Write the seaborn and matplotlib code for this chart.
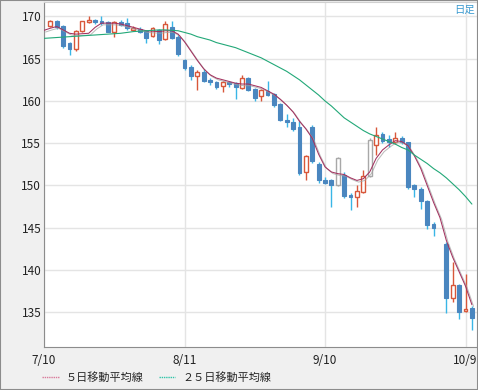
import numpy as np
import pandas as pd
import matplotlib
matplotlib.use("Agg")
import matplotlib.pyplot as plt
import matplotlib.patheffects as pe
from matplotlib.lines import Line2D
import seaborn as sns

# candle index 1..67 (index 0 = 7/10 on the left edge)
day = list(range(1, 68))
open_ = [168.9, 169.4, 168.9, 166.8, 166.2, 168.3, 169.3, 169.6, 169.4, 169.3,
         168.2, 169.3, 169.2, 168.4, 168.5, 168.3, 167.7, 168.4, 167.3, 168.8,
         167.6, 164.8, 164.0, 162.9, 163.4, 162.5, 162.2, 161.8, 162.2, 162.1,
         161.5, 162.7, 161.4, 160.6, 161.2, 160.8, 159.6, 157.8, 157.5, 156.9,
         151.6, 156.9, 152.6, 150.7, 150.6, 150.1, 151.3, 148.9, 148.6, 149.2,
         151.1, 154.8, 156.1, 155.5, 155.1, 155.6, 155.1, 150.0, 149.6, 148.2,
         145.4, np.nan, 143.1, 136.7, 138.2, 135.2, 135.5]
high = [169.6, 169.6, 169.0, 167.0, 168.4, 169.5, 170.0, 169.7, 170.0, 169.4,
        169.5, 169.6, 169.8, 168.9, 168.8, 168.4, 168.8, 168.5, 169.4, 169.4,
        167.8, 165.0, 164.2, 163.6, 163.8, 162.7, 162.4, 162.3, 162.4, 162.2,
        163.1, 162.8, 161.5, 161.4, 162.3, 160.9, 159.7, 158.5, 158.0, 157.6,
        153.6, 157.1, 152.8, 151.0, 150.8, 153.4, 151.6, 149.1, 150.0, 151.8,
        155.6, 156.9, 156.3, 156.0, 156.3, 155.8, 155.2, 150.2, 149.8, 148.3,
        145.7, np.nan, 143.3, 140.9, 138.3, 139.5, 135.7]
low = [168.7, 168.5, 166.3, 165.4, 165.9, 168.2, 169.2, 169.1, 169.0, 168.1,
       167.6, 168.9, 168.4, 168.3, 168.0, 166.9, 167.6, 166.7, 167.2, 167.3,
       165.3, 163.7, 162.5, 161.3, 162.2, 161.9, 161.4, 161.0, 161.6, 160.2,
       161.4, 161.2, 160.0, 160.0, 160.6, 159.3, 157.6, 156.9, 156.5, 151.3,
       150.6, 152.7, 150.3, 150.2, 147.4, 149.9, 148.5, 147.1, 147.4, 149.1,
       151.0, 153.6, 155.0, 154.5, 154.9, 154.9, 149.6, 148.6, 147.2, 144.8,
       144.0, np.nan, 134.9, 136.2, 134.2, 135.0, 132.9]
close = [169.4, 168.8, 166.5, 166.1, 168.3, 169.4, 169.6, 169.3, 169.2, 168.2,
         169.3, 169.0, 168.6, 168.6, 168.2, 167.4, 168.6, 167.2, 169.1, 167.5,
         165.5, 163.9, 162.9, 163.4, 162.4, 162.2, 161.6, 162.2, 162.0, 161.6,
         162.7, 161.3, 160.4, 161.3, 160.7, 159.5, 157.7, 157.5, 156.7, 151.5,
         153.5, 152.9, 150.6, 150.3, 150.0, 153.3, 148.8, 148.6, 149.4, 151.1,
         155.4, 156.0, 155.3, 155.2, 155.6, 155.1, 149.8, 149.6, 148.2, 145.3,
         145.0, np.nan, 136.7, 138.2, 135.0, 135.4, 134.3]

# moving averages, index 0..67
ma_day = list(range(0, 68))
ma5 = [168.35, 168.6, 168.8, 168.4, 168.0, 167.9, 167.95, 168.0, 168.7, 169.2,
       169.2, 169.2, 169.1, 168.9, 168.7, 168.5, 168.3, 168.25, 168.2, 168.3,
       168.3, 167.9, 167.0, 165.9, 164.8, 163.8, 163.1, 162.7, 162.5, 162.3,
       162.1, 162.0, 162.0, 161.8, 161.6, 161.2, 160.8, 160.2, 159.5, 158.7,
       157.6, 156.7, 155.6, 153.7, 152.2, 151.6, 151.4, 151.3, 150.9, 150.6,
       150.8, 151.6, 153.2, 154.2, 154.8, 155.3, 155.2, 154.7, 153.5, 152.0,
       150.0, 148.0, 146.2, 143.5, 141.5, 139.8, 138.1, 135.9]
ma25 = [167.4, 167.45, 167.5, 167.55, 167.6, 167.65, 167.7, 167.75, 167.8, 167.85,
        167.9, 167.95, 168.0, 168.1, 168.2, 168.25, 168.3, 168.35, 168.4, 168.4,
        168.35, 168.3, 168.1, 167.9, 167.6, 167.4, 167.2, 166.9, 166.7, 166.5,
        166.3, 166.0, 165.7, 165.4, 165.1, 164.7, 164.3, 163.9, 163.5, 163.0,
        162.5, 161.9, 161.3, 160.7, 160.0, 159.4, 158.7, 158.0, 157.5, 157.0,
        156.5, 156.1, 155.8, 155.5, 155.2, 154.9, 154.5, 154.2, 153.6, 153.1,
        152.6, 152.0, 151.5, 150.9, 150.2, 149.5, 148.7, 147.8]

tick_pos = [0, 22, 44, 66]
tick_labels = ["7/10", "8/11", "9/10", "10/9"]
y_ticks = [135, 140, 145, 150, 155, 160, 165, 170]
gray_days = [46, 51]

sns.set_style("whitegrid", {"grid.color": "#e4e4e4", "axes.edgecolor": "#9a9a9a"})
plt.rcParams["font.family"] = ["Noto Sans CJK JP", "DejaVu Sans"]

RED = "#d8573a"
BLUE = "#4a86bf"
WICK = "#39b6e6"
PINK = "#a3325f"
GREEN = "#22a878"

fig = plt.figure(figsize=(4.78, 3.90), dpi=100, facecolor="#f0f0f0")
ax = fig.add_axes([44 / 478, 43 / 390, 433 / 478, 345 / 390])
ax.set_facecolor("white")

df = pd.DataFrame({"day": day, "open": open_, "high": high, "low": low, "close": close}).dropna()
df["up"] = df["close"] >= df["open"]
df["edge"] = np.where(df["up"], RED, BLUE)
df.loc[df["day"].isin(gray_days), "edge"] = "#a8a8a8"
up = df[df["up"]]
dn = df[~df["up"]]

ax.vlines(up["day"], up["low"], up["high"], color=up["edge"], linewidth=1, zorder=3)
ax.vlines(dn["day"], dn["low"], dn["high"], color=WICK, linewidth=1, zorder=3)
ax.bar(up["day"], up["close"] - up["open"], bottom=up["open"], width=0.6,
       facecolor="white", edgecolor=up["edge"], linewidth=1, zorder=4)
ax.bar(dn["day"], dn["close"] - dn["open"], bottom=dn["open"], width=0.6,
       facecolor=BLUE, edgecolor=BLUE, linewidth=0.8, zorder=4)

shadow = [pe.SimpleLineShadow(offset=(1.2, -1.2), shadow_color="#a0a0a0", alpha=0.7), pe.Normal()]
sns.lineplot(x=ma_day, y=ma5, color=PINK, linewidth=0.75, ax=ax, zorder=5,
             path_effects=shadow)
sns.lineplot(x=ma_day, y=ma25, color=GREEN, linewidth=0.8, ax=ax, zorder=5)

ax.set_xlim(0, 67.8)
ax.set_ylim(130.9, 171.7)
ax.set_xticks(tick_pos)
ax.set_xticklabels(tick_labels)
ax.set_yticks(y_ticks)
ax.tick_params(axis="both", length=0, labelsize=8.5, colors="#222222")
ax.tick_params(axis="y", pad=2)
ax.tick_params(axis="x", pad=5)
ax.grid(True, color="#e4e4e4", linewidth=1)
ax.set_xlabel("")
ax.set_ylabel("")
for side in ["top", "right"]:
    ax.spines[side].set_color("#d0d0d0")
for side in ["left", "bottom"]:
    ax.spines[side].set_color("#8c8c8c")

ax.text(0.995, 0.992, "日足", transform=ax.transAxes, ha="right", va="top",
        fontsize=7.5, color="#3a9ad0")

handles = [Line2D([], [], color="#d97a9a", linewidth=1, linestyle=(0, (1, 0.6))),
           Line2D([], [], color="#2fc4a8", linewidth=1, linestyle=(0, (1, 0.6)))]
fig.legend(handles, ["５日移動平均線", "２５日移動平均線"], loc="center left",
           bbox_to_anchor=(0.088, 0.031), ncol=2, frameon=False, fontsize=8,
           handlelength=1.5, handletextpad=0.6, columnspacing=1.4,
           borderpad=0, borderaxespad=0)

fig.patches.append(plt.Rectangle((0, 0), 1, 1, transform=fig.transFigure,
                                 fill=False, edgecolor="#8c8c8c", linewidth=1.5))

fig.savefig("out.png", dpi=100, facecolor=fig.get_facecolor())
